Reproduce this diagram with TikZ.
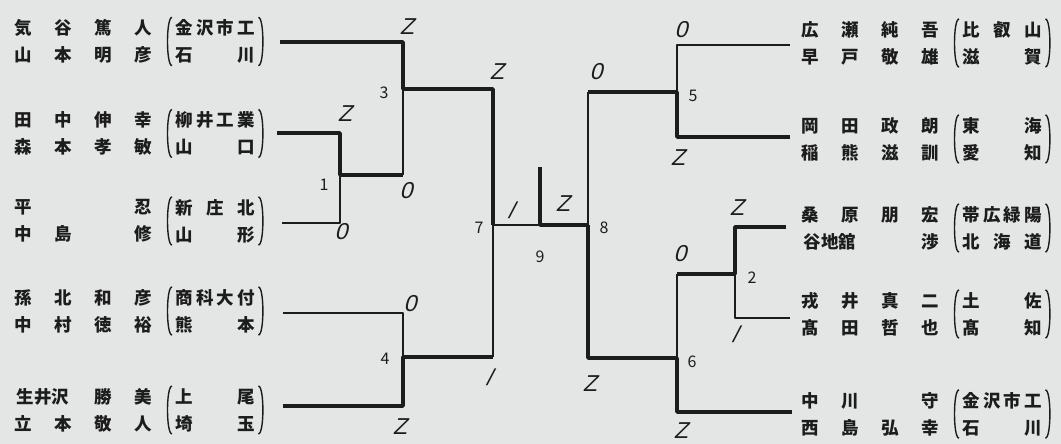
\documentclass[tikz,border=0pt]{standalone}
\usepackage{fontspec}
\setmainfont{Noto Sans CJK JP}
\newfontfamily\handfont[FakeSlant=0.25]{Liberation Sans}
\usetikzlibrary{positioning}

\definecolor{paper}{RGB}{228,230,230}
\definecolor{ink}{RGB}{28,28,28}

% one player: four name columns
\newcommand{\nm}[4]{\makebox[40pt]{#1}\makebox[40pt]{#2}\makebox[40pt]{#3}\makebox[40pt]{#4}}
\newcommand{\nmw}[3]{\makebox[80pt]{#1}\makebox[40pt]{#2}\makebox[40pt]{#3}}
% school and prefecture, spread over the column
\newcommand{\sch}[2]{\makebox[80pt][s]{#1}\\\makebox[80pt][s]{#2}}
% parentheses round a school node
\newcommand{\parens}[1]{%
  \draw[paren] ([xshift=4pt]#1.north west) .. controls ([xshift=-2pt]#1.north west) and ([xshift=-2pt]#1.south west) .. ([xshift=4pt]#1.south west);
  \draw[paren] ([xshift=-4pt]#1.north east) .. controls ([xshift=2pt]#1.north east) and ([xshift=2pt]#1.south east) .. ([xshift=-4pt]#1.south east);}

\begin{document}
\begin{tikzpicture}[x=1pt, y=-1pt, line join=round, ink,
    win/.style={line width=3.8pt},
    lose/.style={line width=1.4pt},
    paren/.style={line width=1.4pt},
    pair/.style={anchor=west, inner sep=0pt, align=left, font=\fontsize{17.5}{27}\selectfont\bfseries},
    school/.style={anchor=west, inner xsep=7pt, inner ysep=2pt, align=left, font=\fontsize{17.5}{27}\selectfont\bfseries},
    score/.style={inner sep=0pt, font=\fontsize{23}{23}\selectfont\handfont},
    num/.style={inner sep=0pt, font=\fontsize{16}{16}\selectfont}]

    % Paper
    \fill[paper] (0,0) rectangle (1061,444);
    \useasboundingbox (0,0) rectangle (1061,444);

    % Left pairs
    \node[pair] (pA) at (3,41.5) {\nm{気}{谷}{篤}{人}\\\nm{山}{本}{明}{彦}};
    \node[school] (sA) at (168,41.5) {\sch{金\hfil 沢\hfil 市\hfil 工}{石\hfil 川}};
    \node[pair] (pB) at (3,133.5) {\nm{田}{中}{伸}{幸}\\\nm{森}{本}{孝}{敏}};
    \node[school] (sB) at (168,133.5) {\sch{柳\hfil 井\hfil 工\hfil 業}{山\hfil 口}};
    \node[pair] (pC) at (3,221) {\nm{平}{}{}{忍}\\\nm{中}{島}{}{修}};
    \node[school] (sC) at (168,221) {\sch{新\hfil 庄\hfil 北}{山\hfil 形}};
    \node[pair] (pD) at (3,311) {\nm{孫}{北}{和}{彦}\\\nm{中}{村}{徳}{裕}};
    \node[school] (sD) at (168,311) {\sch{商\hfil 科\hfil 大\hfil 付}{熊\hfil 本}};
    \node[pair] (pE) at (3,410) {\nmw{生井沢}{勝}{美}\\\nm{立}{本}{敬}{人}};
    \node[school] (sE) at (168,410) {\sch{上\hfil 尾}{埼\hfil 玉}};

    % Right pairs
    \node[pair] (qA) at (790,43) {\nm{広}{瀬}{純}{吾}\\\nm{早}{戸}{敬}{雄}};
    \node[school] (tA) at (955,43) {\sch{比\hfil 叡\hfil 山}{滋\hfil 賀}};
    \node[pair] (qB) at (790,139) {\nm{岡}{田}{政}{朗}\\\nm{稲}{熊}{滋}{訓}};
    \node[school] (tB) at (955,139) {\sch{東\hfil 海}{愛\hfil 知}};
    \node[pair] (qC) at (790,228) {\nm{桑}{原}{朋}{宏}\\\nmw{谷地舘}{}{渉}};
    \node[school] (tC) at (955,228) {\sch{帯\hfil 広\hfil 緑\hfil 陽}{北\hfil 海\hfil 道}};
    \node[pair] (qD) at (790,314) {\nm{戎}{井}{真}{二}\\\nm{髙}{田}{哲}{也}};
    \node[school] (tD) at (955,314) {\sch{土\hfil 佐}{髙\hfil 知}};
    \node[pair] (qE) at (790,414) {\nm{中}{川}{}{守}\\\nm{西}{島}{弘}{幸}};
    \node[school] (tE) at (955,414) {\sch{金\hfil 沢\hfil 市\hfil 工}{石\hfil 川}};

    \foreach \s in {sA,sB,sC,sD,sE,tA,tB,tC,tD,tE} {\parens{\s}}

    % Line ends and matches
    \coordinate (eA) at (280,42);
    \coordinate (eB) at (277,133);
    \coordinate (eC) at (282,223);
    \coordinate (eD) at (283,313);
    \coordinate (eE) at (283,406);
    \coordinate (fA) at (790,45);
    \coordinate (fB) at (790,137);
    \coordinate (fC) at (786,227);
    \coordinate (fD) at (790,318);
    \coordinate (fE) at (792,412);
    \coordinate (m1) at (340,175);
    \coordinate (m3) at (403,89);
    \coordinate (m4) at (403,357);
    \coordinate (m7) at (493,225);
    \coordinate (m9) at (540,225);
    \coordinate (m8) at (588,225);
    \coordinate (m5) at (677,92);
    \coordinate (m6) at (677,358);
    \coordinate (m2) at (735,274);
    \coordinate (ch) at (540,167);

    % Left half
    \draw[win] (eA) -- (eA -| m3) -- (m3) -- (m3 -| m7) -- (m7);
    \draw[win] (eB) -- (eB -| m1) -- (m1) -- (m1 -| m3);
    \draw[lose] (eC) -- (eC -| m1) -- (m1);
    \draw[lose] (m1 -| m3) -- (m3);
    \draw[lose] (eD) -- (eD -| m4) -- (m4);
    \draw[win] (eE) -- (eE -| m4) -- (m4) -- (m4 -| m7);
    \draw[lose] (m4 -| m7) -- (m7) -- (m9);

    % Final
    \draw[win] (ch) -- (m9) -- (m8);

    % Right half
    \draw[lose] (fA) -- (fA -| m5) -- (m5);
    \draw[win] (fB) -- (fB -| m5) -- (m5) -- (m5 -| m8);
    \draw[lose] (m5 -| m8) -- (m8);
    \draw[win] (fC) -- (fC -| m2) -- (m2) -- (m2 -| m6);
    \draw[lose] (fD) -- (fD -| m2) -- (m2);
    \draw[lose] (m2 -| m6) -- (m6);
    \draw[win] (fE) -- (fE -| m6) -- (m6) -- (m6 -| m8) -- (m8);

    % Match numbers
    \node[num] (n1) at (324,185) {1};
    \node[num] (n2) at (752,278) {2};
    \node[num] (n3) at (384,93) {3};
    \node[num] (n4) at (385,359) {4};
    \node[num] (n5) at (693,96) {5};
    \node[num] (n6) at (692,362) {6};
    \node[num] (n7) at (479,228) {7};
    \node[num] (n8) at (604,228) {8};
    \node[num] (n9) at (540,257) {9};

    % Scores
    \node[score] (s3a) at (407,27) {Z};
    \node[score] (s1a) at (345,114) {Z};
    \node[score] (s1b) at (341,232) {0};
    \node[score] (s3b) at (406,191) {0};
    \node[score] (s4a) at (410,304) {0};
    \node[score] (s4b) at (400,427) {Z};
    \node[score] (s7a) at (497,72) {Z};
    \node[score] (s7b) at (489,377) {/};
    \node[score] (s9a) at (511,210) {/};
    \node[score] (s9b) at (563,204) {Z};
    \node[score] (s8a) at (596,72) {0};
    \node[score] (s8b) at (590,384) {Z};
    \node[score] (s5a) at (681,30) {0};
    \node[score] (s5b) at (678,158) {Z};
    \node[score] (s2a) at (737,208) {Z};
    \node[score] (s6a) at (680,254) {0};
    \node[score] (s2b) at (735,334) {/};
    \node[score] (s6b) at (681,431) {Z};
\end{tikzpicture}
\end{document}
